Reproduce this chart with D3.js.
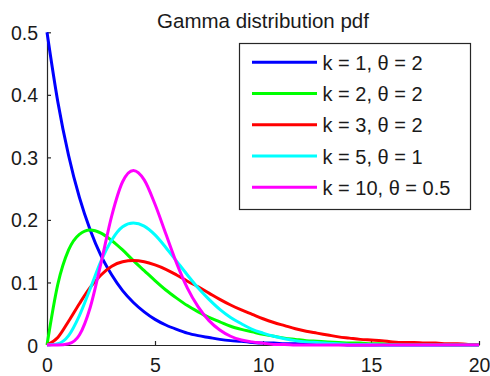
<!DOCTYPE html>
<html>
<head>
<meta charset="utf-8">
<script src="https://cdn.jsdelivr.net/npm/d3@7"></script>
<style>
  html, body { margin: 0; padding: 0; background: #fff; }
  svg { display: block; }
  text { font-family: "Liberation Sans", Arial, Helvetica, sans-serif; fill: #1a1a1a; }
</style>
</head>
<body>
<div id="chart"></div>
<script>
// Sample positions along x (shared by every curve)
const xValues = [0, 0.5, 1, 1.5, 2, 2.5, 3, 3.5, 4, 4.5, 5, 5.5, 6, 6.5, 7, 7.5, 8, 8.5, 9, 9.5,
  10, 10.5, 11, 11.5, 12, 12.5, 13, 13.5, 14, 14.5, 15, 15.5, 16, 16.5, 17, 17.5, 18, 18.5, 19, 19.5, 20];

// Density values of each curve at the positions above
const k1theta2 = [0.5, 0.389, 0.303, 0.236, 0.184, 0.143, 0.112, 0.087, 0.068, 0.053, 0.041, 0.032, 0.025, 0.019,
  0.015, 0.012, 0.009, 0.007, 0.006, 0.004, 0.003, 0.003, 0.002, 0.002, 0.001, 0.001, 0.001, 0.001, 0, 0,
  0, 0, 0, 0, 0, 0, 0, 0, 0, 0, 0];
const k2theta2 = [0, 0.097, 0.152, 0.177, 0.184, 0.179, 0.167, 0.152, 0.135, 0.119, 0.103, 0.088, 0.075, 0.063,
  0.053, 0.044, 0.037, 0.030, 0.025, 0.021, 0.017, 0.014, 0.011, 0.009, 0.007, 0.006, 0.005, 0.004, 0.003, 0.003,
  0.002, 0.002, 0.001, 0.001, 0.001, 0.001, 0.001, 0, 0, 0, 0];
const k3theta2 = [0, 0.012, 0.038, 0.066, 0.092, 0.112, 0.126, 0.133, 0.135, 0.133, 0.128, 0.121, 0.112, 0.102,
  0.093, 0.083, 0.073, 0.064, 0.056, 0.049, 0.042, 0.036, 0.031, 0.026, 0.022, 0.019, 0.016, 0.013, 0.011, 0.009,
  0.008, 0.007, 0.005, 0.004, 0.004, 0.003, 0.003, 0.002, 0.002, 0.001, 0.001];
const k5theta1 = [0, 0.002, 0.015, 0.047, 0.090, 0.134, 0.168, 0.189, 0.195, 0.190, 0.176, 0.156, 0.134, 0.112,
  0.091, 0.073, 0.057, 0.044, 0.034, 0.025, 0.019, 0.014, 0.010, 0.007, 0.005, 0.004, 0.003, 0.002, 0.001, 0.001,
  0.001, 0, 0, 0, 0, 0, 0, 0, 0, 0, 0];
const k10theta05 = [0, 0, 0.002, 0.016, 0.060, 0.131, 0.207, 0.261, 0.279, 0.264, 0.225, 0.178, 0.131, 0.091,
  0.061, 0.039, 0.024, 0.014, 0.008, 0.005, 0.003, 0.001, 0.001, 0, 0, 0, 0, 0, 0, 0,
  0, 0, 0, 0, 0, 0, 0, 0, 0, 0, 0];

const seriesLabels = ["k = 1, θ = 2", "k = 2, θ = 2", "k = 3, θ = 2", "k = 5, θ = 1", "k = 10, θ = 0.5"];
const seriesValues = [k1theta2, k2theta2, k3theta2, k5theta1, k10theta05];
const seriesColors = ["#0000ff", "#00ff00", "#ff0000", "#00ffff", "#ff00ff"];

const xTicks = [0, 5, 10, 15, 20];
const yTicks = [0, 0.1, 0.2, 0.3, 0.4, 0.5];
const titleText = "Gamma distribution pdf";

const W = 490, H = 376;
const svg = d3.select("#chart").append("svg").attr("width", W).attr("height", H);

const x = d3.scaleLinear().domain([0, 20]).range([47, 479]);
const y = d3.scaleLinear().domain([0, 0.5]).range([345, 32.3]);

// Axes: inward ticks, left and bottom only
const xAxis = d3.axisBottom(x).tickValues(xTicks).tickSizeInner(-4).tickSizeOuter(0).tickPadding(8)
  .tickFormat(d3.format("d"));
const yAxis = d3.axisLeft(y).tickValues(yTicks).tickSizeInner(-4).tickSizeOuter(0).tickPadding(9)
  .tickFormat(d => d === 0 ? "0" : d3.format(".1f")(d));

const gx = svg.append("g").attr("transform", `translate(0,${y(0)})`).call(xAxis);
const gy = svg.append("g").attr("transform", `translate(${x(0)},0)`).call(yAxis);

[gx, gy].forEach(g => {
  g.select(".domain").attr("stroke", "#262626").attr("stroke-width", 1.2);
  g.selectAll(".tick line").attr("stroke", "#262626").attr("stroke-width", 1.2);
  g.selectAll(".tick text").attr("font-size", 19.5).attr("fill", "#1a1a1a")
    .attr("font-family", "'Liberation Sans', Arial, sans-serif");
});
gx.selectAll(".tick text").attr("dy", "0.95em");
gy.selectAll(".tick text").attr("dy", "0.36em");

// Curves, drawn in legend order so the last one sits on top
const line = d3.line()
  .x((d, i) => x(xValues[i]))
  .y(d => y(d))
  .curve(d3.curveMonotoneX);

svg.append("g").selectAll("path")
  .data(seriesValues)
  .join("path")
  .attr("d", d => line(d))
  .attr("fill", "none")
  .attr("stroke", (d, i) => seriesColors[i])
  .attr("stroke-width", 3)
  .attr("stroke-linejoin", "round");

// Title
svg.append("text")
  .attr("x", (x(0) + x(20)) / 2)
  .attr("y", 28)
  .attr("text-anchor", "middle")
  .attr("font-size", 20.5)
  .text(titleText);

// Legend
const legend = svg.append("g");
legend.append("rect")
  .attr("x", 239.5).attr("y", 43.5)
  .attr("width", 231).attr("height", 166)
  .attr("fill", "#fff").attr("stroke", "#262626").attr("stroke-width", 1.2);

const rows = legend.selectAll("g.row")
  .data(seriesLabels)
  .join("g")
  .attr("class", "row")
  .attr("transform", (d, i) => `translate(0,${62.3 + i * 31.25})`);

rows.append("line")
  .attr("x1", 252).attr("x2", 317)
  .attr("y1", 0).attr("y2", 0)
  .attr("stroke", (d, i) => seriesColors[i])
  .attr("stroke-width", 3);

rows.append("text")
  .attr("x", 322.5)
  .attr("y", 7.5)
  .attr("font-size", 20)
  .text(d => d);
</script>
</body>
</html>
